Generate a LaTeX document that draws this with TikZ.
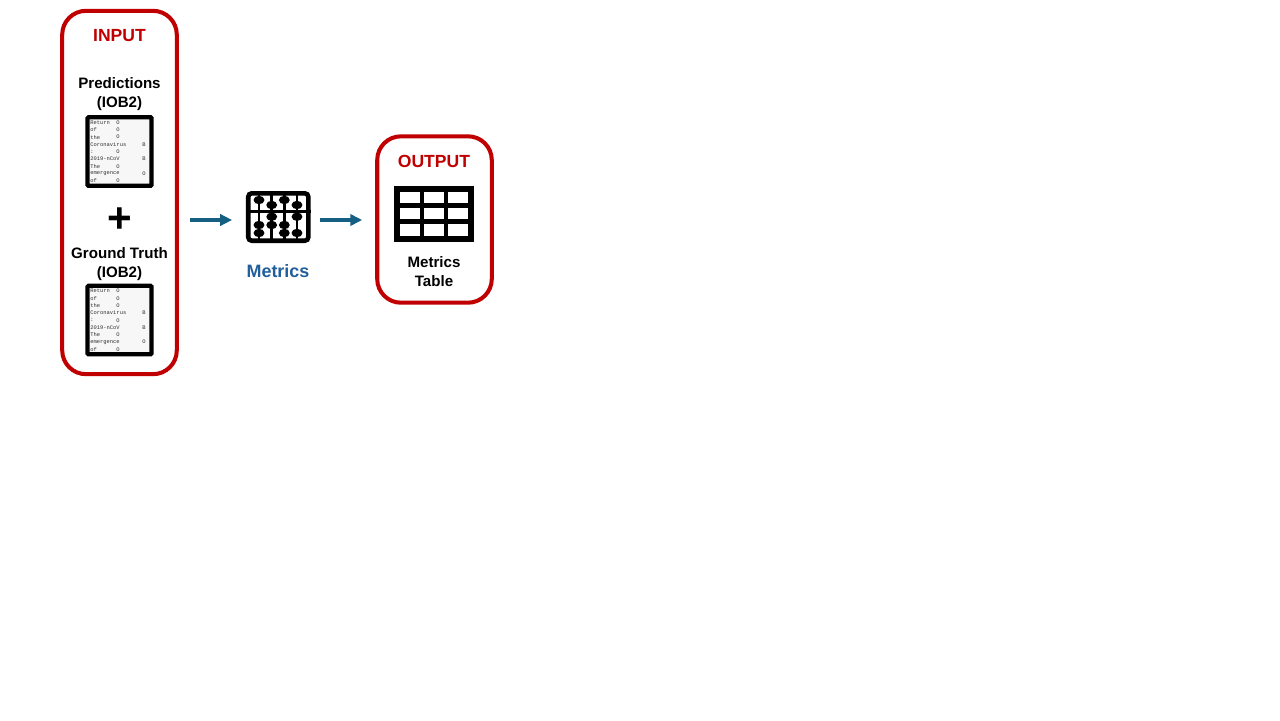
\documentclass[tikz,border=0pt]{standalone}
\usepackage{fontspec}
\setmainfont{Liberation Sans}
\newfontfamily\sheetfont{Liberation Mono}
\usetikzlibrary{arrows.meta,shapes.geometric}
\definecolor{boxred}{HTML}{C00000}
\definecolor{flowblue}{HTML}{156082}
\definecolor{labelblue}{HTML}{215F9A}
\definecolor{sheetgray}{HTML}{F7F7F7}
\definecolor{sheetink}{HTML}{303030}

% one IOB2 sheet: name, centre x, centre y
\newcommand{\iobsheet}[3]{
\node [sheet] (#1) at (#2,#3) {};
\foreach \word/\tag/\tagx [count=\i] in {Return/O/118,of/O/118,the/O/118,Coronavirus/B/144,:/O/118,2019-nCoV/B/144,The/O/118,emergence/O/144,of/O/118} {
\node [sheet-text] (#1-word-\i) at (90,{#3-29+(\i-1)*7.3}) {\word};
\node [sheet-text, anchor=center] (#1-tag-\i) at (\tagx,{#3-29+(\i-1)*7.3}) {\tag};
}
}

\begin{document}
\begin{tikzpicture}[
x=0.02cm, y=-0.02cm,
frame/.style={rectangle, draw=boxred, line width=2.3pt, rounded corners=13.5pt, fill=white, inner sep=0pt},
title/.style={font=\bfseries\fontsize{10pt}{11pt}\selectfont, text=boxred, inner sep=0pt},
caption/.style={font=\bfseries\fontsize{8.6pt}{10.8pt}\selectfont, text=black, inner sep=0pt, align=center},
sheet/.style={rectangle, draw=black, line width=2.4pt, rounded corners=0.6pt, fill=sheetgray, minimum width=36.5pt, minimum height=39pt, inner sep=0pt},
sheet-text/.style={font=\sheetfont\fontsize{3.1pt}{4pt}\selectfont, text=sheetink, anchor=west, inner sep=0pt},
flow/.style={draw=flowblue, line width=2.1pt, -{Triangle[length=6.8pt,width=6.4pt]}},
bead/.style={ellipse, fill=black, minimum width=6.2pt, minimum height=4.8pt, inner sep=0pt}
]
\useasboundingbox (0,0) rectangle (1280,720);

% input box
\node [frame, minimum width=65.2pt, minimum height=206.8pt] (input) at (119.5,192.5) {};
\node [title] (input-title) at (119.5,36) {INPUT};
\node [caption] (pred-label) at (119.5,94.5) {Predictions\\(IOB2)};
\iobsheet{pred}{119.5}{151.5}
\node [font=\bfseries\fontsize{24pt}{24pt}\selectfont, inner sep=0pt] (plus) at (119.5,220) {+};
\node [caption] (truth-label) at (119.5,264.5) {Ground Truth\\(IOB2)};
\iobsheet{truth}{119.5}{320}

% metrics icon
\node [rectangle, draw=black, line width=2.6pt, rounded corners=2pt, minimum width=34.2pt, minimum height=27pt, inner sep=0pt] (abacus) at (278.3,217) {};
\draw [line width=1.7pt] (abacus.west |- 0,211.7) -- (abacus.east |- 0,211.7);
\foreach \rodx in {259,271.7,284.3,297} {
\draw [line width=1.7pt] (\rodx,192) -- (\rodx,242);
}
\foreach \beadx/\beady [count=\i] in {259/200,271.7/205,284.3/200,297/205,259/225,259/233,271.7/216.7,271.7/225,284.3/225,284.3/233,297/216.7,297/233} {
\node [bead] (bead-\i) at (\beadx,\beady) {};
}
\node [font=\bfseries\fontsize{10.2pt}{11pt}\selectfont, text=labelblue, inner sep=0pt] (abacus-label) at (278,271) {Metrics};

% output box
\node [frame, minimum width=65.2pt, minimum height=94.7pt] (output) at (434.5,219.5) {};
\node [title] (output-title) at (434,161) {OUTPUT};
\node [rectangle, fill=black, minimum width=45.4pt, minimum height=31.6pt, inner sep=0pt] (table) at (434,214) {};
\foreach \cellx in {410,434.2,458.2} {
\foreach \celly in {197.5,213.5,230} {
\node [rectangle, fill=white, minimum width=11.4pt, minimum height=6.7pt, inner sep=0pt] (cell-\cellx-\celly) at (\cellx,\celly) {};
}
}
\node [caption] (table-label) at (434,271.5) {Metrics\\Table};

% arrows
\coordinate (flow-level) at (0,220);
\draw [flow, shorten <=6.2pt, shorten >=7.9pt] (input.east |- flow-level) -- (abacus.west |- flow-level);
\draw [flow, shorten <=5.1pt, shorten >=7.4pt] (abacus.east |- flow-level) -- (output.west |- flow-level);

\end{tikzpicture}
\end{document}
